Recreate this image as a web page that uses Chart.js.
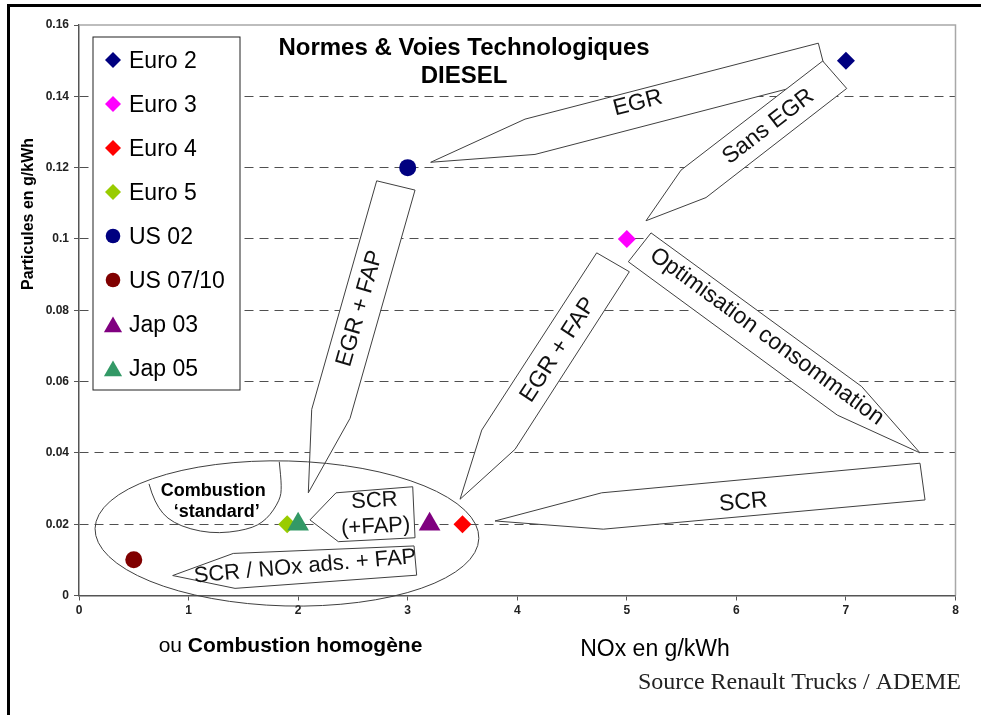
<!DOCTYPE html>
<html>
<head>
<meta charset="utf-8">
<title>Normes &amp; Voies Technologiques DIESEL</title>
<script src="https://cdn.jsdelivr.net/npm/chart.js@4.4.0/dist/chart.umd.min.js"></script>
<style>
  html, body { margin: 0; padding: 0; background: #fff; }
  #chart { display: block; }
</style>
</head>
<body>
<canvas id="chart" width="981" height="715"></canvas>
<script>
// values: NOx (g/kWh) against particules (g/kWh)
const seriesNames = ['Euro 2', 'Euro 3', 'Euro 4', 'Euro 5', 'US 02', 'US 07/10', 'Jap 03', 'Jap 05'];
const noxValues = [7, 5, 3.5, 1.9, 3, 0.5, 3.2, 2];
const pmValues = [0.15, 0.1, 0.02, 0.02, 0.12, 0.01, 0.02, 0.02];
const xTickLabels = ['0', '1', '2', '3', '4', '5', '6', '7', '8'];
const yTickLabels = ['0', '0.02', '0.04', '0.06', '0.08', '0.1', '0.12', '0.14', '0.16'];

// marker styles, one per series
const seriesColors = ['#000080', '#ff00ff', '#ff0000', '#99cc00', '#000080', '#800000', '#800080', '#339966'];
const seriesShapes = ['rectRot', 'rectRot', 'rectRot', 'rectRot', 'circle', 'circle', 'triangle', 'triangle'];
const shapeRadius = { rectRot: 9, circle: 8.5, triangle: 12.5 };

// annotation arrows, vertices in data units (NOx, particules)
const arrows = [
  { text: ['EGR'], size: 23, angle: -14.5, at: [5.10, 0.1381],
    pts: [[3.21, 0.1215], [4.071, 0.1336], [6.748, 0.1549], [6.831, 0.1450], [4.162, 0.1237]] },
  { text: ['Sans EGR'], size: 23, angle: -37.6, at: [6.292, 0.1315],
    pts: [[6.788, 0.1499], [7.007, 0.1422], [5.723, 0.1116], [5.175, 0.1051], [5.495, 0.1193]] },
  { text: ['EGR + FAP'], size: 23, angle: -74.1, at: [2.565, 0.0805],
    pts: [[2.717, 0.1163], [3.067, 0.1137], [2.474, 0.0497], [2.093, 0.0288], [2.124, 0.0522]] },
  { text: ['EGR + FAP'], size: 23, angle: -57, at: [4.375, 0.0689],
    pts: [[4.725, 0.0961], [5.023, 0.0908], [3.980, 0.0410], [3.478, 0.0270], [3.676, 0.0464]] },
  { text: ['Optimisation consommation'], size: 23, angle: 36.2, at: [6.277, 0.0726],
    pts: [[5.221, 0.1017], [5.014, 0.0936], [6.921, 0.0506], [7.676, 0.0400], [7.144, 0.0586]] },
  { text: ['SCR'], size: 23, angle: -5.3, at: [6.063, 0.0261],
    pts: [[3.797, 0.0209], [4.771, 0.0288], [7.676, 0.0371], [7.722, 0.0268], [4.785, 0.0186]] },
  { text: ['SCR', '(+FAP)'], size: 22, angle: -3, at: [2.702, 0.0229],
    pts: [[2.108, 0.0212], [2.346, 0.0288], [3.046, 0.0305], [3.067, 0.0162], [2.367, 0.0151]] },
  { text: ['SCR / NOx ads. + FAP'], size: 22, angle: -5, at: [2.063, 0.0081],
    pts: [[0.855, 0.0056], [1.408, 0.0118], [3.058, 0.0139], [3.082, 0.0057], [1.424, 0.0020]] },
];

// the "combustion standard" pocket inside the ellipse
const standardCurve = [[0.639, 0.0313], [0.687, 0.0259], [0.846, 0.0202], [1.196, 0.0172], [1.545, 0.0184],
  [1.713, 0.0212], [1.835, 0.0268], [1.850, 0.0305], [1.828, 0.0375]];
const standardLabels = [['Combustion', 1.226, 0.0294], ['\u2018standard\u2019', 1.257, 0.0235]];
const zone = { cx: 1.898, cy: 0.0174, rx: 1.752, ry: 0.02033, tilt: 1.5 };

const fontSans = "'Liberation Sans', Arial, sans-serif";
const fontSerif = "'Liberation Serif', 'Times New Roman', serif";

function drawMarker(ctx, shape, x, y, r, color) {
  ctx.save();
  ctx.fillStyle = color;
  ctx.beginPath();
  if (shape === 'circle') {
    ctx.arc(x, y, r, 0, Math.PI * 2);
  } else if (shape === 'rectRot') {
    ctx.moveTo(x, y - r);
    ctx.lineTo(x + r, y);
    ctx.lineTo(x, y + r);
    ctx.lineTo(x - r, y);
    ctx.closePath();
  } else {
    ctx.moveTo(x, y - r);
    ctx.lineTo(x + r * 0.866, y + r / 2);
    ctx.lineTo(x - r * 0.866, y + r / 2);
    ctx.closePath();
  }
  ctx.fill();
  ctx.restore();
}

function drawArrow(ctx, a, px, py) {
  ctx.save();
  ctx.beginPath();
  a.pts.forEach(([vx, vy], i) => {
    if (i) ctx.lineTo(px(vx), py(vy));
    else ctx.moveTo(px(vx), py(vy));
  });
  ctx.closePath();
  ctx.fillStyle = '#fff';
  ctx.fill();
  ctx.strokeStyle = '#404040';
  ctx.lineWidth = 1;
  ctx.stroke();

  ctx.translate(px(a.at[0]), py(a.at[1]));
  ctx.rotate(a.angle * Math.PI / 180);
  ctx.font = a.size + 'px ' + fontSans;
  ctx.fillStyle = '#111';
  ctx.textAlign = 'center';
  ctx.textBaseline = 'middle';
  const lh = a.size * 1.18;
  a.text.forEach((t, i) => ctx.fillText(t, 0, (i - (a.text.length - 1) / 2) * lh));
  ctx.restore();
}

const decorPlugin = {
  id: 'decor',
  beforeDraw(chart) {
    const { ctx, width, height } = chart;
    ctx.save();
    ctx.fillStyle = '#fff';
    ctx.fillRect(0, 0, width, height);
    ctx.restore();
  },
  beforeDatasetsDraw(chart) {
    const { ctx, chartArea: area } = chart;
    const px = v => chart.scales.x.getPixelForValue(v);
    const py = v => chart.scales.y.getPixelForValue(v);

    ctx.save();
    // light frame on top and right of the plot
    ctx.strokeStyle = '#a8a8a8';
    ctx.lineWidth = 1.5;
    ctx.beginPath();
    ctx.moveTo(area.left, area.top);
    ctx.lineTo(area.right, area.top);
    ctx.lineTo(area.right, area.bottom);
    ctx.stroke();

    // title
    ctx.fillStyle = '#000';
    ctx.textAlign = 'center';
    ctx.font = 'bold 24px ' + fontSans;
    ctx.fillText('Normes & Voies Technologiques', area.left + 385, area.top + 30);
    ctx.fillText('DIESEL', area.left + 385, area.top + 58);

    // arrows
    arrows.forEach(a => drawArrow(ctx, a, px, py));

    // combustion standard pocket
    ctx.strokeStyle = '#404040';
    ctx.lineWidth = 1;
    ctx.beginPath();
    const cp = standardCurve.map(([vx, vy]) => [px(vx), py(vy)]);
    ctx.moveTo(cp[0][0], cp[0][1]);
    for (let i = 1; i < cp.length - 1; i++) {
      const mx = (cp[i][0] + cp[i + 1][0]) / 2;
      const my = (cp[i][1] + cp[i + 1][1]) / 2;
      ctx.quadraticCurveTo(cp[i][0], cp[i][1], mx, my);
    }
    ctx.lineTo(cp[cp.length - 1][0], cp[cp.length - 1][1]);
    ctx.stroke();
    ctx.font = 'bold 18px ' + fontSans;
    ctx.textBaseline = 'middle';
    ctx.fillStyle = '#000';
    standardLabels.forEach(([t, vx, vy]) => ctx.fillText(t, px(vx), py(vy)));

    // ellipse around the low-emission zone
    const ex = px(zone.cx), ey = py(zone.cy);
    const erx = px(zone.cx + zone.rx) - ex;
    const ery = ey - py(zone.cy + zone.ry);
    ctx.beginPath();
    ctx.ellipse(ex, ey, erx, ery, zone.tilt * Math.PI / 180, 0, Math.PI * 2);
    ctx.stroke();

    // legend box
    const lx = area.left + 14, ly = area.top + 12;
    ctx.fillStyle = '#fff';
    ctx.fillRect(lx, ly, 147, 353);
    ctx.strokeStyle = '#222';
    ctx.lineWidth = 1;
    ctx.strokeRect(lx, ly, 147, 353);
    ctx.font = '23px ' + fontSans;
    ctx.textAlign = 'left';
    ctx.textBaseline = 'alphabetic';
    seriesNames.forEach((name, i) => {
      const rowY = ly + 23 + i * 44;
      const shape = seriesShapes[i];
      const r = shape === 'triangle' ? 10.5 : (shape === 'circle' ? 7.3 : 8);
      drawMarker(ctx, shape, lx + 20, shape === 'triangle' ? rowY + 3 : rowY, r, seriesColors[i]);
      ctx.fillStyle = '#000';
      ctx.fillText(name, lx + 36, rowY + 8);
    });
    ctx.restore();
  },
  afterDraw(chart) {
    const { ctx, width, height } = chart;
    ctx.save();
    // outer page frame (left and top only)
    ctx.fillStyle = '#000';
    ctx.fillRect(7, 4, 3, height - 4);
    ctx.fillRect(7, 4, width - 7, 3);

    // y axis title
    ctx.save();
    ctx.translate(29, 214);
    ctx.rotate(-Math.PI / 2);
    ctx.font = 'bold 16px ' + fontSans;
    ctx.textAlign = 'center';
    ctx.textBaseline = 'middle';
    ctx.fillText('Particules en g/kWh', 0, 0);
    ctx.restore();

    // x axis titles
    ctx.textBaseline = 'alphabetic';
    ctx.textAlign = 'left';
    ctx.font = '21px ' + fontSans;
    const w1 = ctx.measureText('ou ').width;
    ctx.font = 'bold 21px ' + fontSans;
    const w2 = ctx.measureText('Combustion homogène').width;
    const sx = 290.5 - (w1 + w2) / 2;
    ctx.font = '21px ' + fontSans;
    ctx.fillText('ou ', sx, 652);
    ctx.font = 'bold 21px ' + fontSans;
    ctx.fillText('Combustion homogène', sx + w1, 652);

    ctx.textAlign = 'center';
    ctx.font = '23px ' + fontSans;
    ctx.fillText('NOx en g/kWh', 655, 656);

    ctx.textAlign = 'right';
    ctx.fillStyle = '#222';
    ctx.font = '24px ' + fontSerif;
    ctx.fillText('Source Renault Trucks / ADEME', 961, 689);
    ctx.restore();
  }
};

const ctx = document.getElementById('chart').getContext('2d');
new Chart(ctx, {
  type: 'scatter',
  data: {
    datasets: seriesNames.map((name, i) => ({
      label: name,
      data: [{ x: noxValues[i], y: pmValues[i] }],
      order: seriesNames.length - i,
      pointStyle: seriesShapes[i],
      pointRadius: shapeRadius[seriesShapes[i]],
      pointHoverRadius: shapeRadius[seriesShapes[i]],
      backgroundColor: seriesColors[i],
      borderColor: seriesColors[i],
      pointBorderWidth: 0,
    })),
  },
  options: {
    responsive: false,
    animation: false,
    devicePixelRatio: 1,
    events: [],
    layout: { padding: { top: 25, right: 25.5, left: 0, bottom: 0 } },
    plugins: {
      legend: { display: false },
      tooltip: { enabled: false },
    },
    scales: {
      x: {
        type: 'linear',
        min: 0,
        max: 8,
        afterBuildTicks: scale => { scale.ticks = xTickLabels.map(t => ({ value: Number(t) })); },
        afterFit: scale => { scale.height = 119.5; },
        ticks: {
          callback: (v, i) => xTickLabels[i],
          font: { family: fontSans, size: 12, weight: 'bold' },
          color: '#222',
          padding: 3,
          maxRotation: 0,
        },
        grid: { drawOnChartArea: false, tickLength: 5, tickColor: '#555', tickWidth: 1 },
        border: { color: '#555', width: 1.5 },
      },
      y: {
        type: 'linear',
        min: 0,
        max: 0.16,
        afterBuildTicks: scale => { scale.ticks = yTickLabels.map(t => ({ value: Number(t) })); },
        afterFit: scale => { scale.width = 79; },
        ticks: {
          callback: (v, i) => yTickLabels[i],
          font: { family: fontSans, size: 12, weight: 'bold' },
          color: '#222',
          padding: 5,
        },
        grid: {
          color: c => (c.tick && (c.tick.value === 0 || c.tick.value === 0.16)) ? 'rgba(0,0,0,0)' : '#505050',
          lineWidth: 1,
          tickLength: 5,
          tickColor: '#555',
          tickWidth: 1,
        },
        border: { color: '#555', width: 1.5, dash: [9, 6] },
      },
    },
  },
  plugins: [decorPlugin],
});
</script>
</body>
</html>
